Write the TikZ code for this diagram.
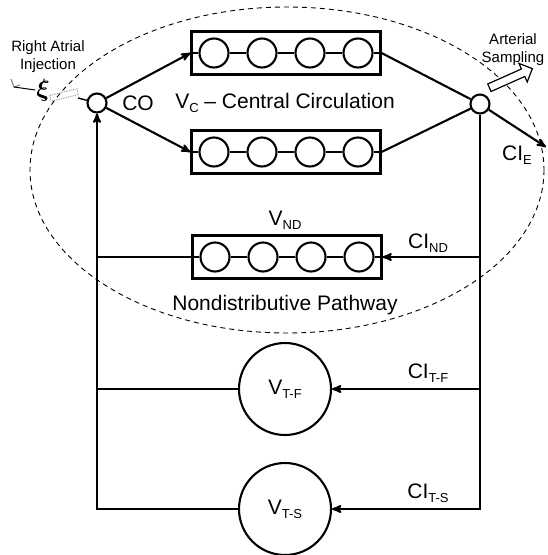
\documentclass[tikz,border=0pt]{standalone}
\usepackage{amsmath}
\usepackage{amssymb}
\usepackage{fontspec}
\setmainfont{Liberation Sans}
\usetikzlibrary{arrows,positioning,shapes.arrows}

\newcommand{\lowsub}[1]{\raisebox{-4.3pt}{\fontsize{13}{13}\selectfont #1}}

\begin{document}
\begin{tikzpicture}[x=1pt,y=-1pt,>=stealth',line width=2.1pt,inner sep=0pt,
	                    font=\fontsize{21}{23}\selectfont]
	  \tikzstyle{junction}=[circle,draw,fill=white,minimum size=19pt]
	  \tikzstyle{chain}=[rectangle,draw,minimum width=189pt,minimum height=43pt]
	  \tikzstyle{bead}=[circle,draw,minimum size=29pt]
	  \tikzstyle{tissue}=[circle,draw,minimum size=92pt]
	  \tikzstyle{small}=[font=\fontsize{15}{18}\selectfont,align=center]

	  \useasboundingbox (0,0) rectangle (547,555);
	  \draw[dashed,line width=0.9pt,dash pattern=on 5pt off 4pt]
	  	(287,170) ellipse [x radius=257, y radius=163];

	  % junctions and pools
	  \node[junction]	(in)	at (97,103)		{};
	  \node[junction]	(out)	at (480,104)	{};
	  \node[chain]		(top)	at (286,53)		{};
	  \node[chain]		(mid)	at (286,152)	{};
	  \node[chain]		(nd)	at (287,257)	{};
	  \node[tissue]		(tf)	at (285,389)	{V\lowsub{T-F}};
	  \node[tissue]		(ts)	at (285,509)	{V\lowsub{T-S}};

	  \foreach \b in {top,mid,nd} {
	  	\foreach \i/\x in {1/-72,2/-24,3/24,4/72}
	  		\node[bead] (\b\i) at ([xshift=\x pt]\b.center) {};
	  	\draw[line width=1.6pt] (\b.west) -- (\b1) -- (\b2) -- (\b3) -- (\b4) -- (\b.east);
	  }

	  % labels
	  \node				(co)	at (138,103)	{CO};
	  \node				(vc)	at (285,103)	{V\lowsub{C} -- Central Circulation};
	  \node				(vnd)	at (285,220)	{V\lowsub{ND}};
	  \node				(path)	at (285,305)	{Nondistributive Pathway};
	  \node				(cind)	at (428,243)	{CI\lowsub{ND}};
	  \node				(citf)	at (428,373)	{CI\lowsub{T-F}};
	  \node				(cits)	at (428,493)	{CI\lowsub{T-S}};
	  \node				(cie)	at (517,155)	{CI\lowsub{E}};
	  \node[small]		(ra)	at (48,57)		{Right Atrial\\Injection};
	  \node[small]		(as)	at (513,50)		{Arterial\\Sampling};

	  % flows
	  \coordinate (exit) at (546,147);
	  \path[->] (in)	edge (top.west)
	  				edge (mid.west)
	  		(out)	edge (exit);
	  \draw (top.east) -- (out);
	  \draw (mid.east) -- (out);
	  \draw[->] (ts.west) -| (in);
	  \draw (tf.west) -- (tf.west -| in);
	  \draw (nd.west) -- (nd.west -| in);
	  \draw[->] (out) |- (ts);
	  \draw[->] (tf.east -| out) -- (tf);
	  \draw[->] (nd.east -| out) -- (nd.east);

	  % sampling arrow
	  \node[single arrow,draw,line width=1.2pt,fill=white,inner sep=3.5pt,minimum height=47pt,
	  	single arrow head extend=6pt,rotate=24] (samp) at (509,79) {};

	  % injection
	  \node				(coil)	at (43,90)		{\fontsize{32}{32}\selectfont$\boldsymbol{\xi}$};
	  \coordinate (hook) at (14,87);
	  \draw[gray,line width=1pt] (11,79) -- (hook) -- (20,85);
	  \draw[line width=1pt] (hook) -- (coil.west);
	  \draw[gray,line width=0.8pt,densely dotted,rotate around={14:(64,95)}]
	  	(50,92) rectangle (78,98);
	  \draw[line width=1.4pt] (78,98) -- (in);
\end{tikzpicture}
\end{document}
